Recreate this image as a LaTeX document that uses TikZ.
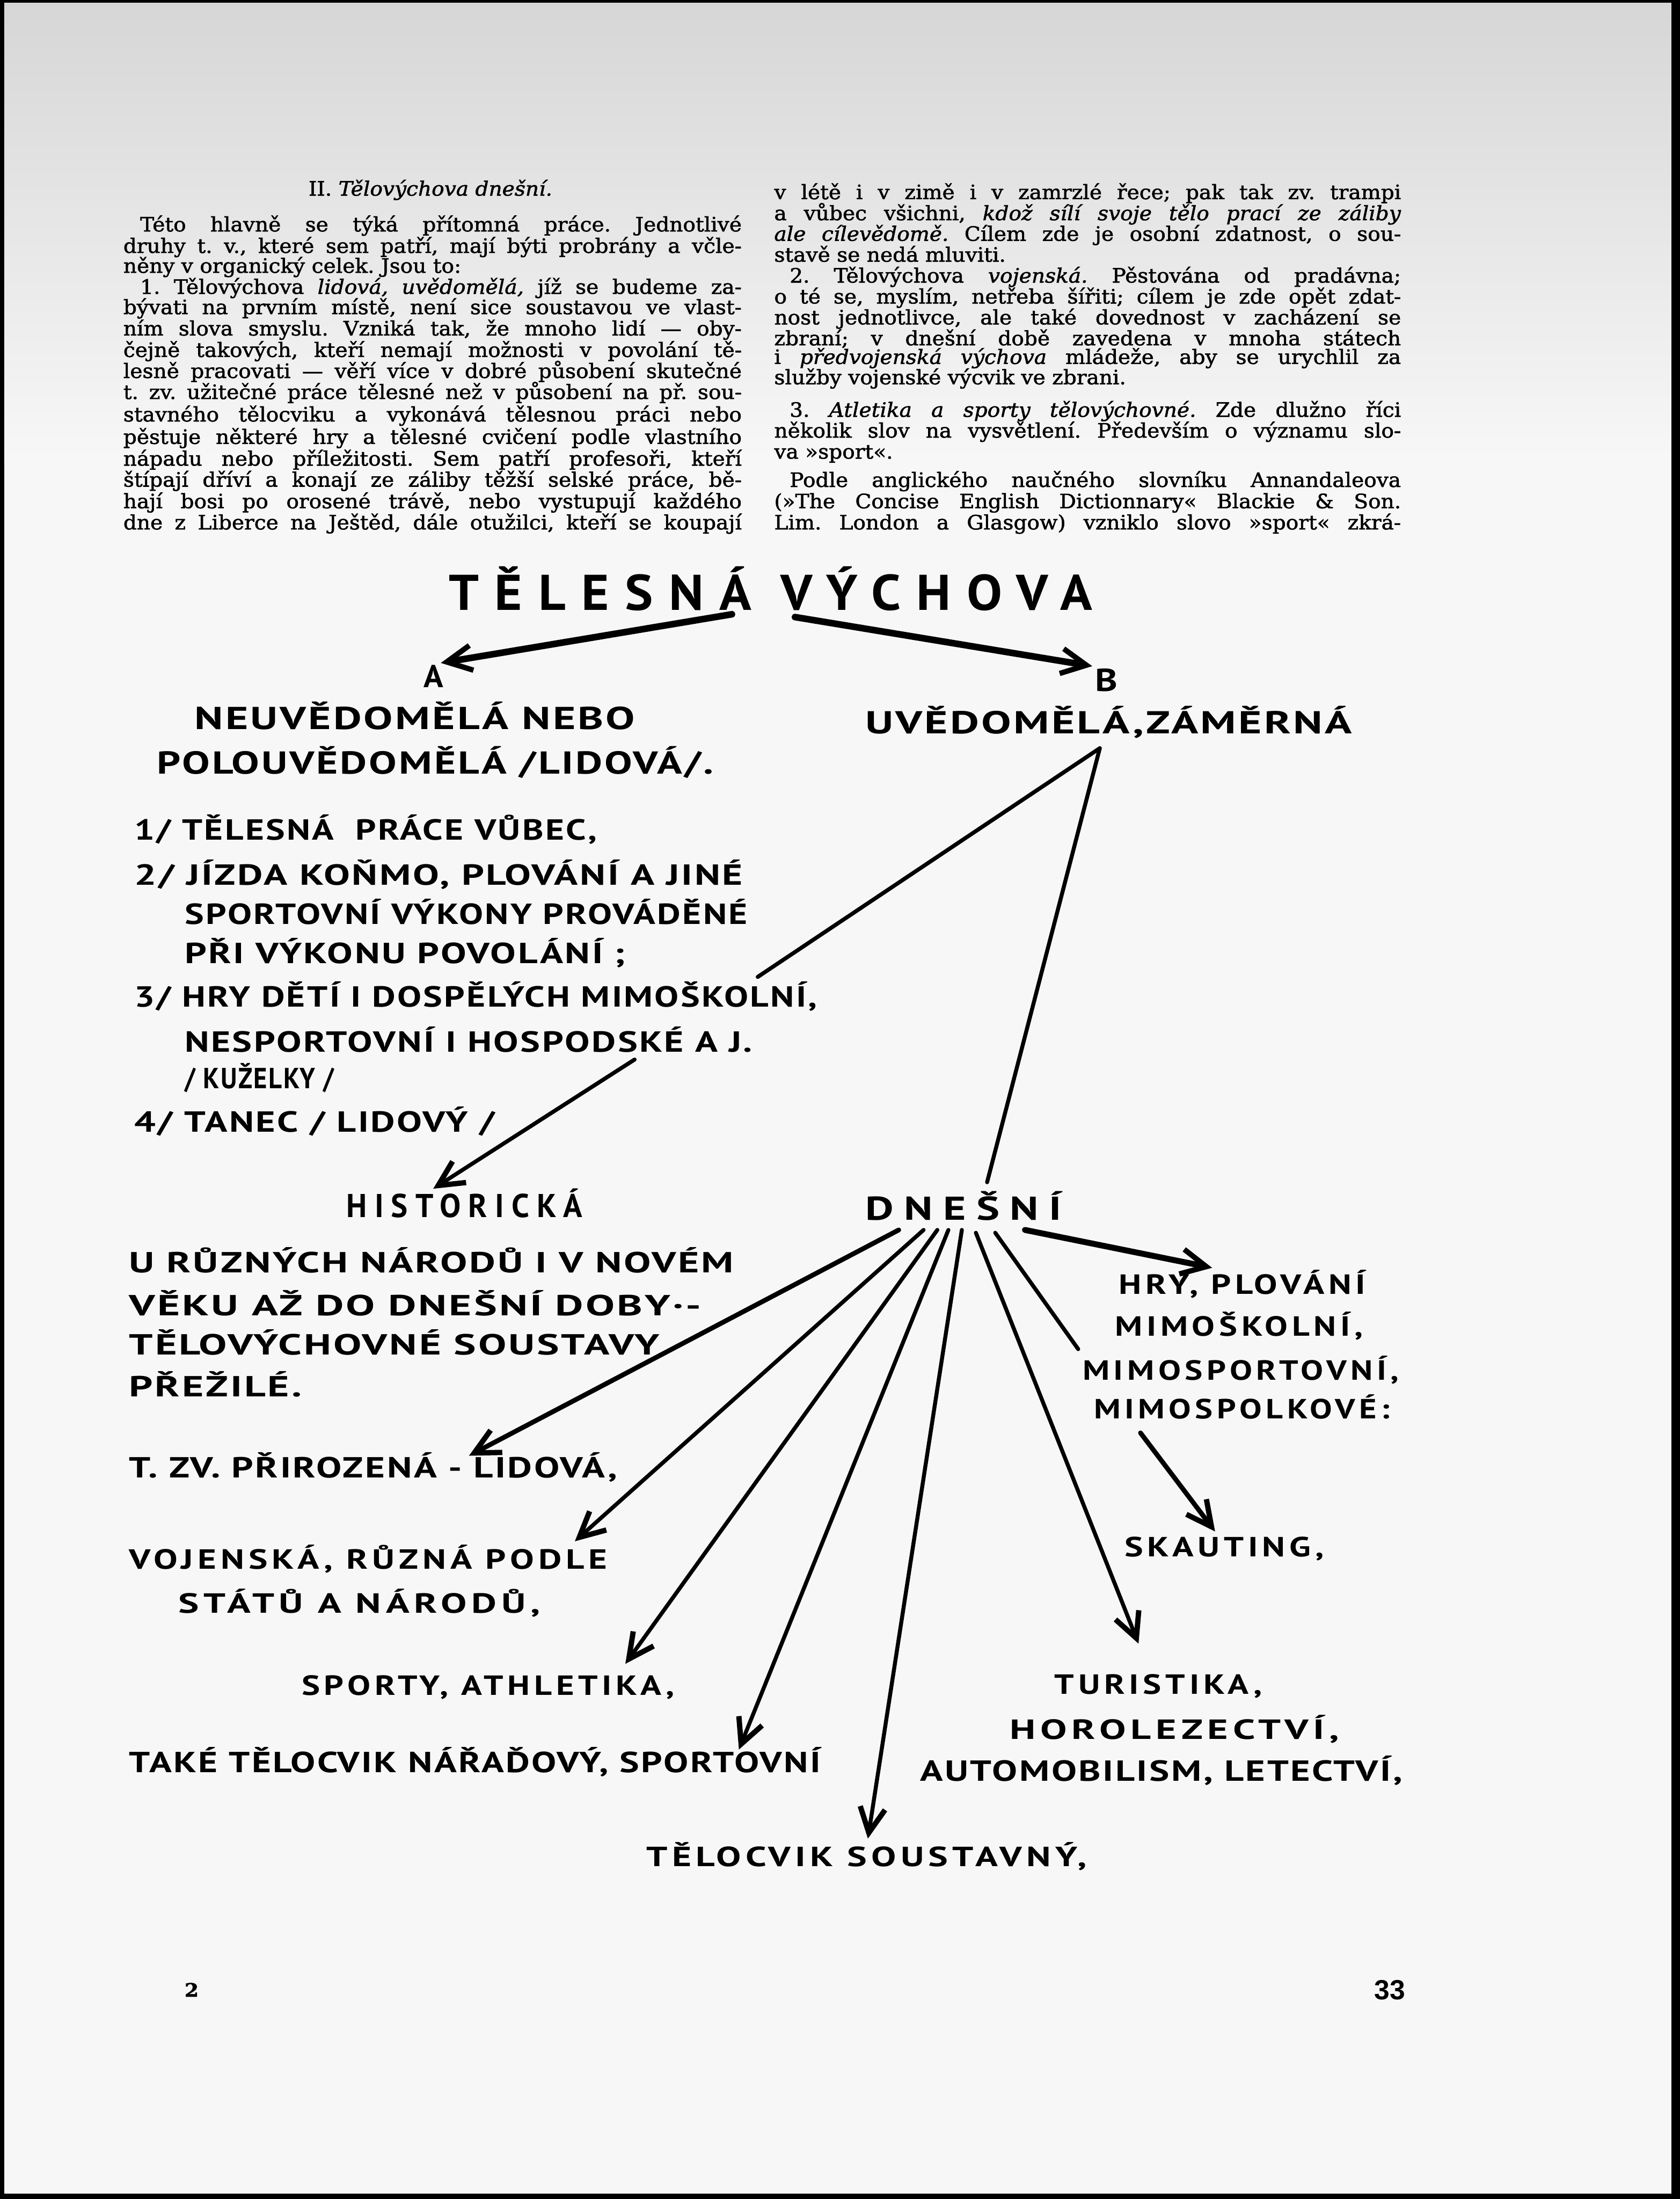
\documentclass[tikz,border=0pt]{standalone}
\usepackage{fontspec}
\usepackage{graphicx}
\usetikzlibrary{arrows.meta}
\setmainfont{DejaVu Serif}
\newfontfamily\bodyf[FakeStretch=1.06,FakeBold=1.6]{DejaVu Serif}
\newfontfamily\handf[LetterSpace=5]{PT Sans}
\newfontfamily\handm[LetterSpace=12]{PT Sans}
\newfontfamily\handw[LetterSpace=24]{PT Sans}
\newfontfamily\titf[LetterSpace=30]{PT Sans}
\newfontfamily\numf{Liberation Sans}
\newlength\px \setlength\px{1.06242pt}
\newcommand\hw[2]{\resizebox{#1\px}{\height}{#2}}
\newcommand\jl[1]{\makebox[441\px][s]{#1}}
\newcommand\jli[1]{\makebox[429\px][s]{#1}}
\newcommand\jr[1]{\makebox[447\px][s]{#1}}
\newcommand\jri[1]{\makebox[436\px][s]{#1}}
\tikzset{
 txt/.style={inner sep=0pt, anchor=base west},
 body/.style={txt, font=\bodyf\frenchspacing\fontsize{15}{15}\selectfont},
 hand/.style={txt, font=\handf\bfseries\fontsize{22}{22}\selectfont},
 handm/.style={txt, font=\handm\bfseries\fontsize{21}{21}\selectfont},
 head/.style={txt, font=\handf\bfseries\fontsize{24}{24}\selectfont},
 wide/.style={txt, font=\handw\bfseries\fontsize{25}{25}\selectfont},
 conn/.style={line width=3pt, line cap=round},
 tip/.style={-{Straight Barb[length=19pt,width=19pt,line width=4pt]}},
}
\begin{document}
\begin{tikzpicture}[x=0.03734cm, y=-0.03734cm]
\useasboundingbox (0,0) rectangle (1198,1568);
% page
\fill[black] (0,0) rectangle (1198,1568);
\fill[black!3] (3,2) rectangle (1192,1564);
\shade[top color=black!16, bottom color=black!3] (3,2) rectangle (1192,330);

% ---------- body text, left column ----------
\node[body, anchor=base] (lt) at (307,139.5) {II. \textit{Tělovýchova dnešní.}};
\node[body] (l1) at (99.8,165) {\jli{Této hlavně se týká přítomná práce. Jednotlivé}};
\node[body] (l2) at (87.8,180.3) {\jl{druhy t. v., které sem patří, mají býti probrány a včle-}};
\node[body] (l3) at (87.8,194.5) {něny v organický celek. Jsou to:};
\node[body] (l4) at (99.8,209.5) {\jli{1. Tělovýchova \textit{lidová, uvědomělá,} jíž se budeme za-}};
\node[body] (l5) at (87.8,224) {\jl{bývati na prvním místě, není sice soustavou ve vlast-}};
\node[body] (l6) at (87.8,239.2) {\jl{ním slova smyslu. Vzniká tak, že mnoho lidí — oby-}};
\node[body] (l7) at (87.8,254.5) {\jl{čejně takových, kteří nemají možnosti v povolání tě-}};
\node[body] (l8) at (87.8,269.5) {\jl{lesně pracovati — věří více v dobré působení skutečné}};
\node[body] (l9) at (87.8,284.5) {\jl{t. zv. užitečné práce tělesné než v působení na př. sou-}};
\node[body] (l10) at (87.8,300.5) {\jl{stavného tělocviku a vykonává tělesnou práci nebo}};
\node[body] (l11) at (87.8,316.5) {\jl{pěstuje některé hry a tělesné cvičení podle vlastního}};
\node[body] (l12) at (87.8,332) {\jl{nápadu nebo příležitosti. Sem patří profesoři, kteří}};
\node[body] (l13) at (87.8,347) {\jl{štípají dříví a konají ze záliby těžší selské práce, bě-}};
\node[body] (l14) at (87.8,362.4) {\jl{hají bosi po orosené trávě, nebo vystupují každého}};
\node[body] (l15) at (87.8,377.5) {\jl{dne z Liberce na Ještěd, dále otužilci, kteří se koupají}};

% ---------- body text, right column ----------
\node[body] (r1) at (552,142) {\jr{v létě i v zimě i v zamrzlé řece; pak tak zv. trampi}};
\node[body] (r2) at (552,157) {\jr{a vůbec všichni, \textit{kdož sílí svoje tělo prací ze záliby}}};
\node[body] (r3) at (552,171.7) {\jr{\textit{ale cílevědomě.} Cílem zde je osobní zdatnost, o sou-}};
\node[body] (r4) at (552,186.6) {stavě se nedá mluviti.};
\node[body] (r5) at (563,201.5) {\jri{2. Tělovýchova \textit{vojenská.} Pěstována od pradávna;}};
\node[body] (r6) at (552,216.4) {\jr{o té se, myslím, netřeba šířiti; cílem je zde opět zdat-}};
\node[body] (r7) at (552,231.3) {\jr{nost jednotlivce, ale také dovednost v zacházení se}};
\node[body] (r8) at (552,246.2) {\jr{zbraní; v dnešní době zavedena v mnoha státech}};
\node[body] (r9) at (552,259.5) {\jr{i \textit{předvojenská výchova} mládeže, aby se urychlil za}};
\node[body] (r10) at (552,274) {služby vojenské výcvik ve zbrani.};
\node[body] (r11) at (563,297.2) {\jri{3. \textit{Atletika a sporty tělovýchovné.} Zde dlužno říci}};
\node[body] (r12) at (552,312) {\jr{několik slov na vysvětlení. Především o významu slo-}};
\node[body] (r13) at (552,327) {va »sport«.};
\node[body] (r14) at (563,347.2) {\jri{Podle anglického naučného slovníku Annandaleova}};
\node[body] (r15) at (552,362.4) {\jr{(»The Concise English Dictionnary« Blackie \& Son.}};
\node[body] (r16) at (552,377.5) {\jr{Lim. London a Glasgow) vzniklo slovo »sport« zkrá-}};

% ---------- diagram text ----------
\node[txt, font=\titf\bfseries\fontsize{38}{38}\selectfont] (title) at (320,435) {\hw{459}{TĚLESNÁ VÝCHOVA}};
\node[head] (A) at (302,490) {\hw{14}{A}};
\node[head] (B) at (781,493) {\hw{16}{B}};
\node[head] (neuv) at (138.7,520) {\hw{314}{NEUVĚDOMĚLÁ NEBO}};
\node[head] (polo) at (111.7,552) {\hw{397}{POLOUVĚDOMĚLÁ /LIDOVÁ/.}};
\node[head] (uved) at (617,523) {\hw{347}{UVĚDOMĚLÁ,ZÁMĚRNÁ}};

\node[hand] (i1) at (95.6,599) {\hw{330}{1/ TĚLESNÁ \ PRÁCE VŮBEC,}};
\node[hand] (i2) at (95.6,631) {\hw{434}{2/ JÍZDA KOŇMO, PLOVÁNÍ A JINÉ}};
\node[hand] (i3) at (131.5,659) {\hw{401.5}{SPORTOVNÍ VÝKONY PROVÁDĚNÉ}};
\node[hand] (i4) at (131.5,687) {\hw{314.5}{PŘI VÝKONU POVOLÁNÍ ;}};
\node[hand] (i5) at (95.6,718) {\hw{487}{3/ HRY DĚTÍ I DOSPĚLÝCH MIMOŠKOLNÍ,}};
\node[hand] (i6) at (131.5,750) {\hw{405}{NESPORTOVNÍ I HOSPODSKÉ A J.}};
\node[hand] (i7) at (131.5,776) {\hw{106.5}{/ KUŽELKY /}};
\node[hand] (i8) at (95.6,807) {\hw{257}{4/ TANEC / LIDOVÝ /}};

\node[wide] (hist) at (247,868) {\hw{168}{HISTORICKÁ}};
\node[hand] (h1) at (92,907.6) {\hw{431}{U RŮZNÝCH NÁRODŮ I V NOVÉM}};
\node[hand] (h2) at (92,938) {\hw{408}{VĚKU AŽ DO DNEŠNÍ DOBY·-}};
\node[hand] (h3) at (92,966) {\hw{378}{TĚLOVÝCHOVNÉ SOUSTAVY}};
\node[hand] (h4) at (92,996) {\hw{123}{PŘEŽILÉ.}};

\node[wide] (dnes) at (617,870) {\hw{140}{DNEŠNÍ}};
\node[handm] (hry) at (797.8,922.6) {\hw{176}{HRY, PLOVÁNÍ}};
\node[handm] (mimosk) at (795,952.6) {\hw{177}{MIMOŠKOLNÍ,}};
\node[handm] (mimosp) at (772,984) {\hw{225.6}{MIMOSPORTOVNÍ,}};
\node[handm] (mimopol) at (780,1011.5) {\hw{211}{MIMOSPOLKOVÉ:}};
\node[handm] (skaut) at (802,1110) {\hw{142}{SKAUTING,}};

\node[hand] (tzv) at (92,1053.6) {\hw{348}{T. ZV. PŘIROZENÁ - LIDOVÁ,}};
\node[handm] (voj) at (92,1118.6) {\hw{341}{VOJENSKÁ, RŮZNÁ PODLE}};
\node[handm] (stat) at (127,1150) {\hw{258}{STÁTŮ A NÁRODŮ,}};
\node[handm] (sport) at (215,1208.6) {\hw{266}{SPORTY, ATHLETIKA,}};
\node[hand] (take) at (92,1264) {\hw{493}{TAKÉ TĚLOCVIK NÁŘAĎOVÝ, SPORTOVNÍ}};
\node[handm] (teloc) at (461,1331) {\hw{314}{TĚLOCVIK SOUSTAVNÝ,}};
\node[handm] (tur) at (752,1208) {\hw{148}{TURISTIKA,}};
\node[handm] (horo) at (720,1240) {\hw{235}{HOROLEZECTVÍ,}};
\node[hand] (auto) at (656,1270) {\hw{344}{AUTOMOBILISM, LETECTVÍ,}};

% page numbers
\node[txt, font=\bodyf\bfseries\fontsize{14}{14}\selectfont] (pg2) at (131.5,1423.7) {\hw{10}{2}};
\node[txt, font=\numf\bfseries\fontsize{21}{21}\selectfont] (pg33) at (980,1425.6) {\hw{22}{33}};

% ---------- connectors ----------
\coordinate (g1) at (540.4,696.6);
\coordinate (g2) at (452.6,755.5);

\draw[conn, tip, line width=5pt] ([shift={(202,3)}]title.base west) -- ([shift={(12.4,-17.3)}]A.base west);
\draw[conn, tip, line width=5pt] ([shift={(247,5)}]title.base west) -- ([shift={(-2,-18)}]B.base west);

\draw[conn] ([shift={(167.4,10.5)}]uved.base west) -- (g1);
\draw[conn, tip] (g2) -- ([shift={(62,-20.4)}]hist.base west);
\draw[conn] ([shift={(167.4,10.5)}]uved.base west) -- ([shift={(87,-27)}]dnes.base west);

\draw[conn, tip, line width=3.6pt] ([shift={(24,7)}]dnes.base west) -- ([shift={(242.5,-15.6)}]tzv.base west);
\draw[conn, tip] ([shift={(41.7,7)}]dnes.base west) -- ([shift={(318,-19.6)}]voj.base west);
\draw[conn, tip] ([shift={(51.5,7)}]dnes.base west) -- ([shift={(231,-22.2)}]sport.base west);
\draw[conn, tip] ([shift={(59.4,7)}]dnes.base west) -- ([shift={(435,-16.5)}]take.base west);
\draw[conn, tip] ([shift={(69,7)}]dnes.base west) -- ([shift={(158,-20)}]teloc.base west);
\draw[conn, tip] ([shift={(79,9)}]dnes.base west) -- ([shift={(60,-36)}]tur.base west);
\draw[conn] ([shift={(92.8,9)}]dnes.base west) -- ([shift={(-3,-22)}]mimosp.base west);
\draw[conn, tip, line width=4.5pt] ([shift={(114,7)}]dnes.base west) -- ([shift={(66.7,-18.6)}]hry.base west);
\draw[conn, tip, line width=3.6pt] ([shift={(33.4,10.2)}]mimopol.base west) -- ([shift={(64.6,-18)}]skaut.base west);
\end{tikzpicture}
\end{document}
